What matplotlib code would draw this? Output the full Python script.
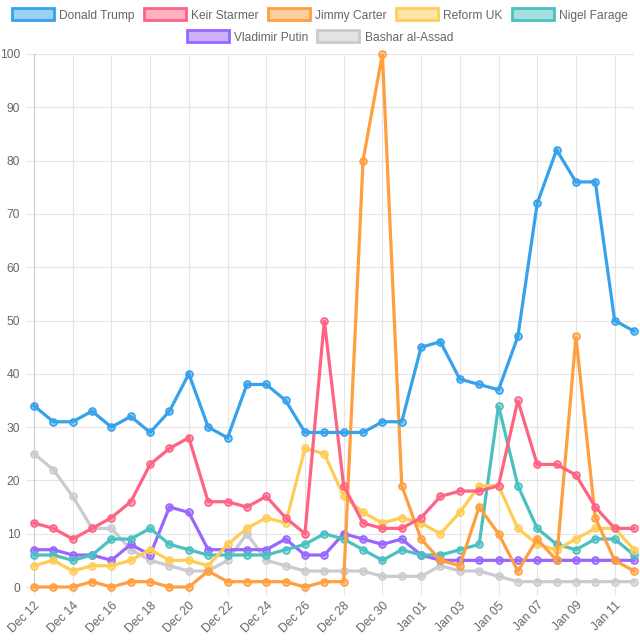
import matplotlib
matplotlib.use("Agg")
import matplotlib.pyplot as plt
from matplotlib.patches import Patch
from matplotlib.colors import to_rgba

plt.rcParams['font.family'] = ['Liberation Sans', 'DejaVu Sans']

dates = ["Dec 12", "Dec 13", "Dec 14", "Dec 15", "Dec 16", "Dec 17", "Dec 18", "Dec 19",
         "Dec 20", "Dec 21", "Dec 22", "Dec 23", "Dec 24", "Dec 25", "Dec 26", "Dec 27",
         "Dec 28", "Dec 29", "Dec 30", "Dec 31", "Jan 01", "Jan 02", "Jan 03", "Jan 04",
         "Jan 05", "Jan 06", "Jan 07", "Jan 08", "Jan 09", "Jan 10", "Jan 11", "Jan 12"]

donald_trump = [34, 31, 31, 33, 30, 32, 29, 33, 40, 30, 28, 38, 38, 35, 29, 29,
                29, 29, 31, 31, 45, 46, 39, 38, 37, 47, 72, 82, 76, 76, 50, 48]
keir_starmer = [12, 11, 9, 11, 13, 16, 23, 26, 28, 16, 16, 15, 17, 13, 10, 50,
                19, 12, 11, 11, 13, 17, 18, 18, 19, 35, 23, 23, 21, 15, 11, 11]
jimmy_carter = [0, 0, 0, 1, 0, 1, 1, 0, 0, 3, 1, 1, 1, 1, 0, 1,
                1, 80, 100, 19, 9, 5, 4, 15, 10, 3, 9, 5, 47, 13, 5, 3]
reform_uk = [4, 5, 3, 4, 4, 5, 7, 5, 5, 4, 8, 11, 13, 12, 26, 25,
             17, 14, 12, 13, 12, 10, 14, 19, 19, 11, 8, 7, 9, 11, 11, 7]
nigel_farage = [6, 6, 5, 6, 9, 9, 11, 8, 7, 6, 6, 6, 6, 7, 8, 10,
                9, 7, 5, 7, 6, 6, 7, 8, 34, 19, 11, 8, 7, 9, 9, 6]
vladimir_putin = [7, 7, 6, 6, 5, 8, 6, 15, 14, 7, 7, 7, 7, 9, 6, 6,
                  10, 9, 8, 9, 6, 5, 5, 5, 5, 5, 5, 5, 5, 5, 5, 5]
bashar_al_assad = [25, 22, 17, 11, 11, 7, 5, 4, 3, 3, 5, 10, 5, 4, 3, 3,
                   3, 3, 2, 2, 2, 4, 3, 3, 2, 1, 1, 1, 1, 1, 1, 1]

series_names = ["Donald Trump", "Keir Starmer", "Jimmy Carter", "Reform UK",
                "Nigel Farage", "Vladimir Putin", "Bashar al-Assad"]
series_values = [donald_trump, keir_starmer, jimmy_carter, reform_uk,
                 nigel_farage, vladimir_putin, bashar_al_assad]
colors = ["#36a2eb", "#ff6384", "#ff9f40", "#ffcd56", "#4bc0c0", "#9966ff", "#c9cbcf"]

FS = 8.64

fig = plt.figure(figsize=(6.4, 6.4), dpi=100)
ax = fig.add_axes([34/640, 53/640, 600/640, 533/640])

x = list(range(len(dates)))
n = len(series_names)
for i, (name, vals, c) in enumerate(zip(series_names, series_values, colors)):
    ax.plot(x, vals, color=c, lw=2.3, marker='o', ms=5,
            mfc=to_rgba(c, 0.5), mec=c, mew=1.2, clip_on=False,
            zorder=10 + (n - i), solid_joinstyle='miter')

ax.set_xlim(0, len(dates) - 1)
ax.set_ylim(0, 100)
ax.set_yticks(range(0, 101, 10))
ax.set_xticks(x[::2])
ax.set_xticklabels(dates[::2], rotation=45, ha='right', rotation_mode='anchor')

grid_c = "#e5e5e5"
ax.grid(True, color=grid_c, lw=0.8)
ax.set_axisbelow(True)
for s in ['top', 'right', 'bottom']:
    ax.spines[s].set_visible(False)
ax.spines['left'].set_color("#cccccc")
ax.tick_params(axis='both', colors=grid_c, labelcolor="#666666", labelsize=FS, length=6, width=0.8)
ax.tick_params(axis='y', pad=4)
ax.tick_params(axis='x', pad=3)

handles = [Patch(facecolor=to_rgba(c, 0.5), edgecolor=c, lw=2) for c in colors]
kw = dict(frameon=False, fontsize=FS, handlelength=3.5, handleheight=1.15,
          handletextpad=0.45, columnspacing=0.75, labelcolor="#666666")
fig.legend(handles[:5], series_names[:5], ncol=5, loc='center',
           bbox_to_anchor=(0.5, 1 - 15/640), **kw)
fig.legend(handles[5:], series_names[5:], ncol=2, loc='center',
           bbox_to_anchor=(0.5, 1 - 37/640), **kw)

fig.savefig("out.png", dpi=100)
